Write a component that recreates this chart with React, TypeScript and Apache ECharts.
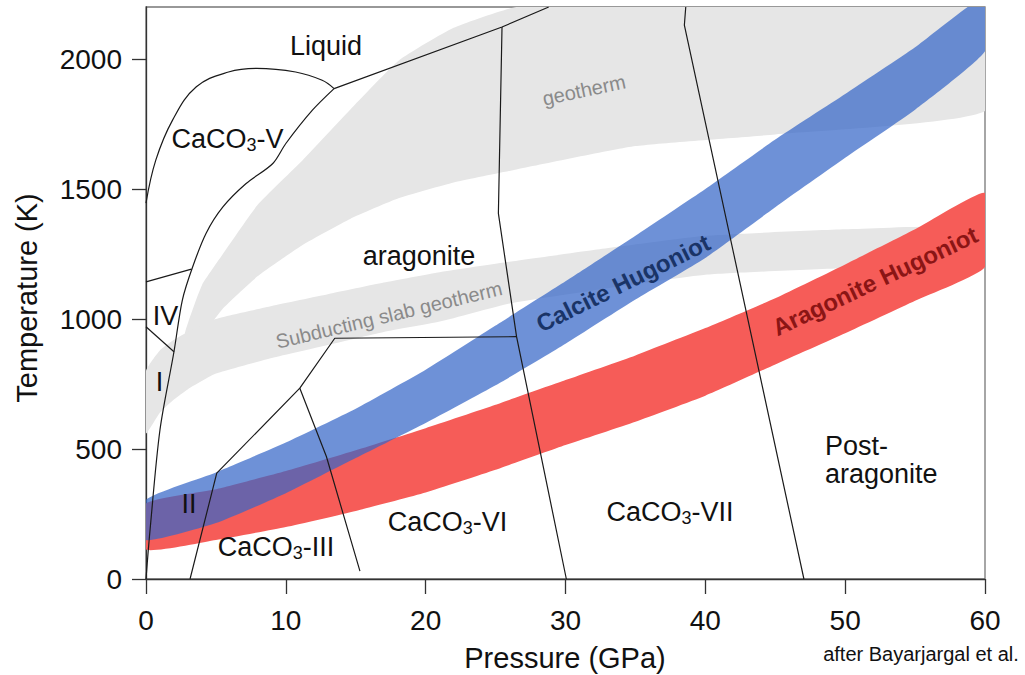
import React, { useEffect, useRef } from "react";
import * as echarts from "echarts";

// ---------- axis ticks ----------
const P_TICKS = [0, 10, 20, 30, 40, 50, 60];
const T_TICKS = [0, 500, 1000, 1500, 2000];

// ---------- Hugoniot bands (pressure GPa -> temperature K) ----------
const hugP = [0, 5, 10, 15, 20, 25, 30, 35, 40, 45, 50, 55, 60];
const calciteUpper = [305, 410, 525, 655, 805, 975, 1145, 1320, 1500, 1690, 1865, 2045, 2240];
const calciteLower = [150, 215, 330, 465, 600, 745, 905, 1075, 1235, 1430, 1620, 1805, 2030];
const aragoniteUpper = [290, 345, 415, 495, 580, 670, 765, 860, 965, 1080, 1210, 1345, 1485];
const aragoniteLower = [113, 150, 200, 262, 333, 420, 515, 605, 705, 825, 945, 1070, 1200];

// ---------- gray geotherm bands ----------
const geothermP = [2.2, 2.8, 4, 5.5, 8, 11.2, 14.6, 18.1, 22, 26.5, 35, 45, 60];
const geothermUpper = [760, 950, 1130, 1250, 1440, 1611, 1805, 1995, 2120, 2200, 2200, 2200, 2200];
const geothermLower = [760, 820, 930, 1040, 1165, 1285, 1385, 1465, 1525, 1575, 1665, 1710, 1800];

const slabP = [0, 1, 2, 3, 5, 9, 13, 17, 21, 26, 32, 40, 50, 60];
const slabUpper = [800, 880, 920, 950, 1000, 1050, 1095, 1140, 1180, 1220, 1265, 1320, 1345, 1350];
const slabLower = [560, 640, 690, 730, 790, 850, 900, 950, 990, 1060, 1110, 1170, 1195, 1200];

// ---------- phase boundaries [P, T] ----------
const bCaVLiquid = [[0, 1446], [0.7, 1611], [1.9, 1765], [3.6, 1893], [5.9, 1950], [7.9, 1964], [10.7, 1950], [12.6, 1918], [13.45, 1886]];
const bCaVArag = [[13.45, 1886], [11.9, 1803], [10, 1675], [9.07, 1598], [7.16, 1521], [5.5, 1431], [4.3, 1330], [3.34, 1201], [2.6, 1073], [2.0, 874], [1.0, 574], [0.29, 189], [0, 0]];
const bIVV = [[0, 1143], [3.25, 1192]];
const bIVI = [[0, 970], [2.0, 874]];
const bLiquidArag = [[13.45, 1886], [25.46, 2123], [28.8, 2200]];
const bAragVI = [[25.46, 2123], [25.2, 1406], [26.5, 932], [30.06, 0]];
const bIIIArag = [[3.15, 0], [5.06, 407], [11.0, 734], [13.5, 926], [26.5, 932]];
const bIIIVI = [[11.0, 734], [12.9, 471], [15.3, 30]];
const bVIIPost = [[38.6, 2200], [38.5, 2130], [47.05, 0]];

const FONT = "'Liberation Sans', Arial, Helvetica, sans-serif";

function band(xs: number[], lower: number[], upper: number[], color: string, opacity: number, z: number) {
  return {
    type: "custom", coordinateSystem: "cartesian2d", clip: true, silent: true, z,
    data: [[xs[0], lower[0]]],
    renderItem: (_params: any, api: any) => {
      const top = xs.map((p, i) => api.coord([p, upper[i]]));
      const bottom = xs.map((p, i) => api.coord([p, lower[i]])).reverse();
      return {
        type: "polygon",
        shape: { points: top.concat(bottom), smooth: 0.15 },
        style: { fill: color, opacity },
      };
    },
  };
}

function boundary(data: number[][], smooth: number | boolean = false) {
  return { type: "line", data, symbol: "none", smooth, silent: true, z: 5,
    lineStyle: { color: "#1a1a1a", width: 1.2 } };
}

const rich = {
  n: { fontSize: 27, lineHeight: 30, fontFamily: FONT, fill: "#111" },
  s: { fontSize: 18, lineHeight: 10, fontFamily: FONT, fill: "#111", verticalAlign: "bottom" },
};

function label(text: string, x: number, y: number, opts: any = {}) {
  return {
    type: "text", x, y, z: 100, rotation: ((opts.rot || 0) * Math.PI) / 180,
    style: {
      text, fill: opts.color || "#111", fontSize: opts.size || 27, fontFamily: FONT,
      fontWeight: opts.weight || "normal", align: opts.align || "center", verticalAlign: "middle",
      rich: opts.rich,
    },
  };
}

const option: any = {
  animation: false,
  backgroundColor: "#ffffff",
  grid: { left: 146, right: 40, top: 7, bottom: 96, show: true, borderColor: "#777", borderWidth: 1.3 },
  xAxis: {
    type: "value", min: 0, max: 60, interval: 10,
    axisLine: { show: true, onZero: false, lineStyle: { color: "#333", width: 1.3 } },
    axisTick: { show: true, length: 15, lineStyle: { color: "#333", width: 1.3 }, customValues: P_TICKS },
    axisLabel: { fontSize: 28, color: "#111", fontFamily: FONT, margin: 27, customValues: P_TICKS,
      formatter: (v: number) => String(v) },
    splitLine: { show: false },
  },
  yAxis: {
    type: "value", min: 0, max: 2200, interval: 500,
    axisLine: { show: true, onZero: false, lineStyle: { color: "#333", width: 1.3 } },
    axisTick: { show: true, length: 14, lineStyle: { color: "#333", width: 1.3 }, customValues: T_TICKS },
    axisLabel: { fontSize: 28, color: "#111", fontFamily: FONT, margin: 24, customValues: T_TICKS,
      formatter: (v: number) => String(v) },
    splitLine: { show: false },
  },
  series: [
    band(geothermP, geothermLower, geothermUpper, "#e6e6e6", 1, 1),
    band(slabP, slabLower, slabUpper, "#e6e6e6", 1, 1),
    band(hugP, aragoniteLower, aragoniteUpper, "#f65c58", 1, 2),
    band(hugP, calciteLower, calciteUpper, "#3666c7", 0.72, 3),
    boundary(bCaVLiquid, 0.4),
    boundary(bCaVArag, 0.3),
    boundary(bIVV),
    boundary(bIVI),
    boundary(bLiquidArag),
    boundary(bAragVI),
    boundary(bIIIArag),
    boundary(bIIIVI),
    boundary(bVIIPost),
  ],
  graphic: [
    label("Liquid", 326, 45.6),
    label("{n|CaCO}{s|3}{n|-V}", 227.5, 139, { rich }),
    label("aragonite", 419, 255.6),
    label("IV", 165.5, 315.6),
    label("I", 159.5, 382.3),
    label("II", 189, 504),
    label("{n|CaCO}{s|3}{n|-III}", 276, 547.3, { rich }),
    label("{n|CaCO}{s|3}{n|-VI}", 447.5, 522.3, { rich }),
    label("{n|CaCO}{s|3}{n|-VII}", 670, 512.3, { rich }),
    label("Post-", 825, 445.6, { align: "left" }),
    label("aragonite", 825, 473.9, { align: "left" }),
    label("geotherm", 584, 90, { size: 20, color: "#8a8a8a", rot: 12 }),
    label("Subducting slab geotherm", 389, 315, { size: 20, color: "#8a8a8a", rot: 13.5 }),
    label("Calcite Hugoniot", 623, 283, { size: 24, color: "#1a3467", weight: "bold", rot: 26.3 }),
    label("Aragonite Hugoniot", 875, 281, { size: 24, color: "#8b1515", weight: "bold", rot: 25.3 }),
    label("Temperature (K)", 26.5, 298, { size: 29, rot: 90 }),
    label("Pressure (GPa)", 565, 658, { size: 29 }),
    label("after Bayarjargal et al.", 921, 654, { size: 20 }),
  ],
};

export default function App() {
  const ref = useRef<HTMLDivElement>(null);
  useEffect(() => {
    document.body.style.margin = "0";
    const chart = echarts.init(ref.current as HTMLDivElement, null, { renderer: "svg" });
    chart.setOption(option);
    return () => chart.dispose();
  }, []);
  return <div ref={ref} style={{ width: 1025, height: 675 }} />;
}
